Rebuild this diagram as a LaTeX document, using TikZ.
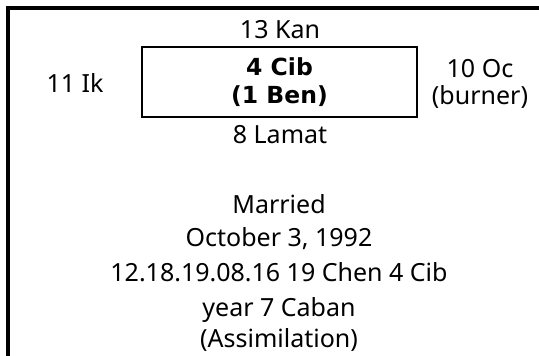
\documentclass[tikz,border=0pt]{standalone}
\usepackage{fontspec}
\setmainfont{Noto Sans}
\newfontfamily\cibfont{DejaVu Sans}
\usetikzlibrary{positioning}

\begin{document}
\begin{tikzpicture}[x=1pt, y=-1pt, line join=miter]
	\def\fs{25}
	
	\tikzset{
		frame/.style={line width=4pt},
		lbl/.style={font=\fontsize{\fs}{27}\selectfont, inner sep=0pt, align=center},
		daybox/.style={draw, line width=2pt, minimum width=275pt, minimum height=70pt,
			inner sep=0pt, align=center, font=\cibfont\bfseries\fontsize{23.5}{28}\selectfont}
	}
	
	\useasboundingbox (0,0) rectangle (539,356);
	
	% border (left and top only)
	\draw[frame] (8,356) -- (8,8) -- (539,8);
	
	% day sign and its neighbours
	\node[daybox] (cib) at (279.5,82) {4 Cib\\(1 Ben)};
	\node[lbl, anchor=base] (kan) at (280,38) {13 Kan};
	\node[lbl, anchor=base] (lamat) at (280,143) {8 Lamat};
	\node[lbl, anchor=base] (ik) at (75,92) {11 Ik};
	\node[lbl] (oc) at (480,84) {10 Oc\\(burner)};
	
	% event
	\node[lbl, anchor=base] (married) at (279,213) {Married};
	\node[lbl, anchor=base] (date) at (279,246) {October 3, 1992};
	\node[lbl, anchor=base] (count) at (279,281) {12.18.19.08.16 19 Chen 4 Cib};
	\node[lbl, anchor=base] (year) at (279,316) {year 7 Caban};
	\node[lbl, anchor=base] (assim) at (279,347) {(Assimilation)};
	
\end{tikzpicture}
\end{document}
